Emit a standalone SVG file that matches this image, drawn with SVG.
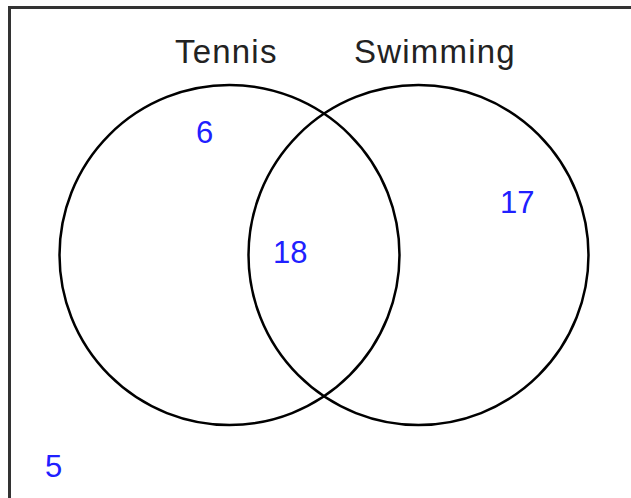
<svg xmlns="http://www.w3.org/2000/svg" width="631" height="498" viewBox="0 0 631 498">
<style>
.set{fill:none;stroke:#000;stroke-width:2.5}
.lbl{font-family:"Liberation Sans",Arial,sans-serif;font-size:33px;letter-spacing:1.2px;fill:#222}
.num{font-family:"Liberation Sans",Arial,sans-serif;font-size:31px;fill:#2020ff}
</style>
<rect x="9.5" y="7.5" width="640" height="520" fill="#fff" stroke="#333" stroke-width="3"/>
<g id="tennis">
<circle class="set" cx="229.5" cy="255" r="170"/>
<text class="lbl" x="175" y="63">Tennis</text>
</g>
<g id="swimming">
<circle class="set" cx="418.5" cy="255" r="170"/>
<text class="lbl" x="354" y="63">Swimming</text>
</g>
<g id="counts">
<text class="num" x="196" y="143">6</text>
<text class="num" x="273" y="263">18</text>
<text class="num" x="500" y="213">17</text>
<text class="num" x="45" y="477">5</text>
</g>
<g id="connectors"></g>
</svg>
